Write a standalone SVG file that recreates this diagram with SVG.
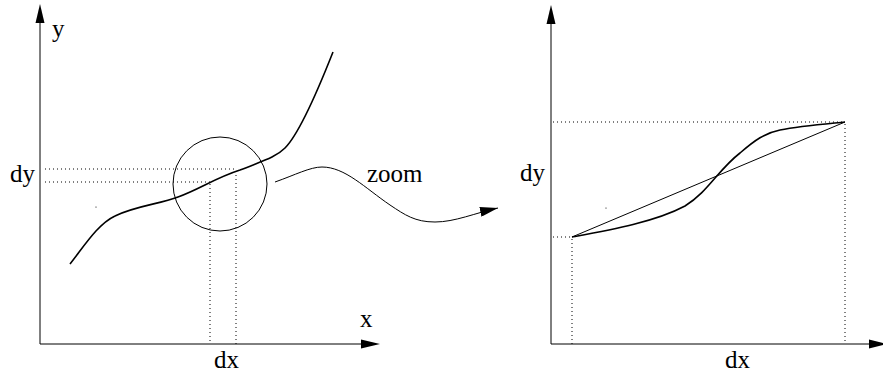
<svg xmlns="http://www.w3.org/2000/svg" width="883" height="375" viewBox="0 0 883 375">
<style>
.ax{fill:none;stroke:#000;stroke-width:1}
.dot{fill:none;stroke:#000;stroke-width:1;stroke-dasharray:1 3}
.crv{fill:none;stroke:#000;stroke-width:1.6}
.thin{fill:none;stroke:#000;stroke-width:1}
.lbl{font-family:'Liberation Serif','Times New Roman','DejaVu Serif',serif;font-size:25px;fill:#000}
.ah{fill:#000;stroke:none}
</style>
<defs>
<marker id="arr" markerUnits="userSpaceOnUse" viewBox="0 0 18 10" markerWidth="18" markerHeight="10" refX="18" refY="5" orient="auto">
<path d="M0,0 L18,5 L0,10 Z" fill="#000"/>
</marker>
</defs>
<rect width="883" height="375" fill="#fff"/>
<g id="left-plot">
<line class="ax" x1="40" y1="344" x2="40" y2="20"/>
<path class="ah" d="M40,4 L44.5,23 L35.5,23 Z"/>
<line class="ax" x1="40" y1="344" x2="364" y2="344"/>
<path class="ah" d="M380,344 L361,339.5 L361,348.5 Z"/>
<text class="lbl" x="52" y="37">y</text>
<text class="lbl" x="360" y="327">x</text>
<text class="lbl" x="10" y="182">dy</text>
<text class="lbl" x="214" y="368">dx</text>
<line class="dot" x1="45" y1="169" x2="237" y2="169"/>
<line class="dot" x1="45" y1="182" x2="210" y2="182"/>
<line class="dot" x1="210" y1="184" x2="210" y2="344"/>
<line class="dot" x1="236" y1="171" x2="236" y2="344"/>
<path class="crv" d="M70,264 C85,245 98,224 115,216 C135,206 160,204 178,197 C200,189 215,178 240,170 C262,161 275,158 285,148 C300,133 318,90 333,52"/>
<circle class="thin" cx="220" cy="184" r="47"/>
<circle cx="96" cy="207" r="0.6" fill="#000"/>
</g>
<g id="connectors">
<path class="thin" d="M275,182 C295,175 310,167 322,167 C345,167 365,188 390,205 C405,215 415,222 435,222 C455,222 475,213 498,208" marker-end="url(#arr)"/>
<text class="lbl" x="367" y="182">zoom</text>
</g>
<g id="right-plot">
<line class="ax" x1="551" y1="344" x2="551" y2="20"/>
<path class="ah" d="M551,5 L555.5,24 L546.5,24 Z"/>
<line class="ax" x1="551" y1="344" x2="872" y2="344"/>
<path class="ah" d="M887,344 L869,339.5 L869,348.5 Z"/>
<text class="lbl" x="520" y="181">dy</text>
<text class="lbl" x="725" y="368">dx</text>
<line class="dot" x1="553" y1="122" x2="845" y2="122"/>
<line class="dot" x1="845" y1="124" x2="845" y2="344"/>
<line class="dot" x1="553" y1="237" x2="572" y2="237"/>
<line class="dot" x1="572" y1="239" x2="572" y2="344"/>
<line class="thin" x1="572" y1="237" x2="845" y2="122"/>
<path class="crv" d="M572,237 C610,230 655,222 685,206 C708,192 718,170 740,153 C755,140 765,133 780,130 C800,126 825,124 845,122"/>
<circle cx="606" cy="208" r="0.6" fill="#000"/>
</g>
</svg>
